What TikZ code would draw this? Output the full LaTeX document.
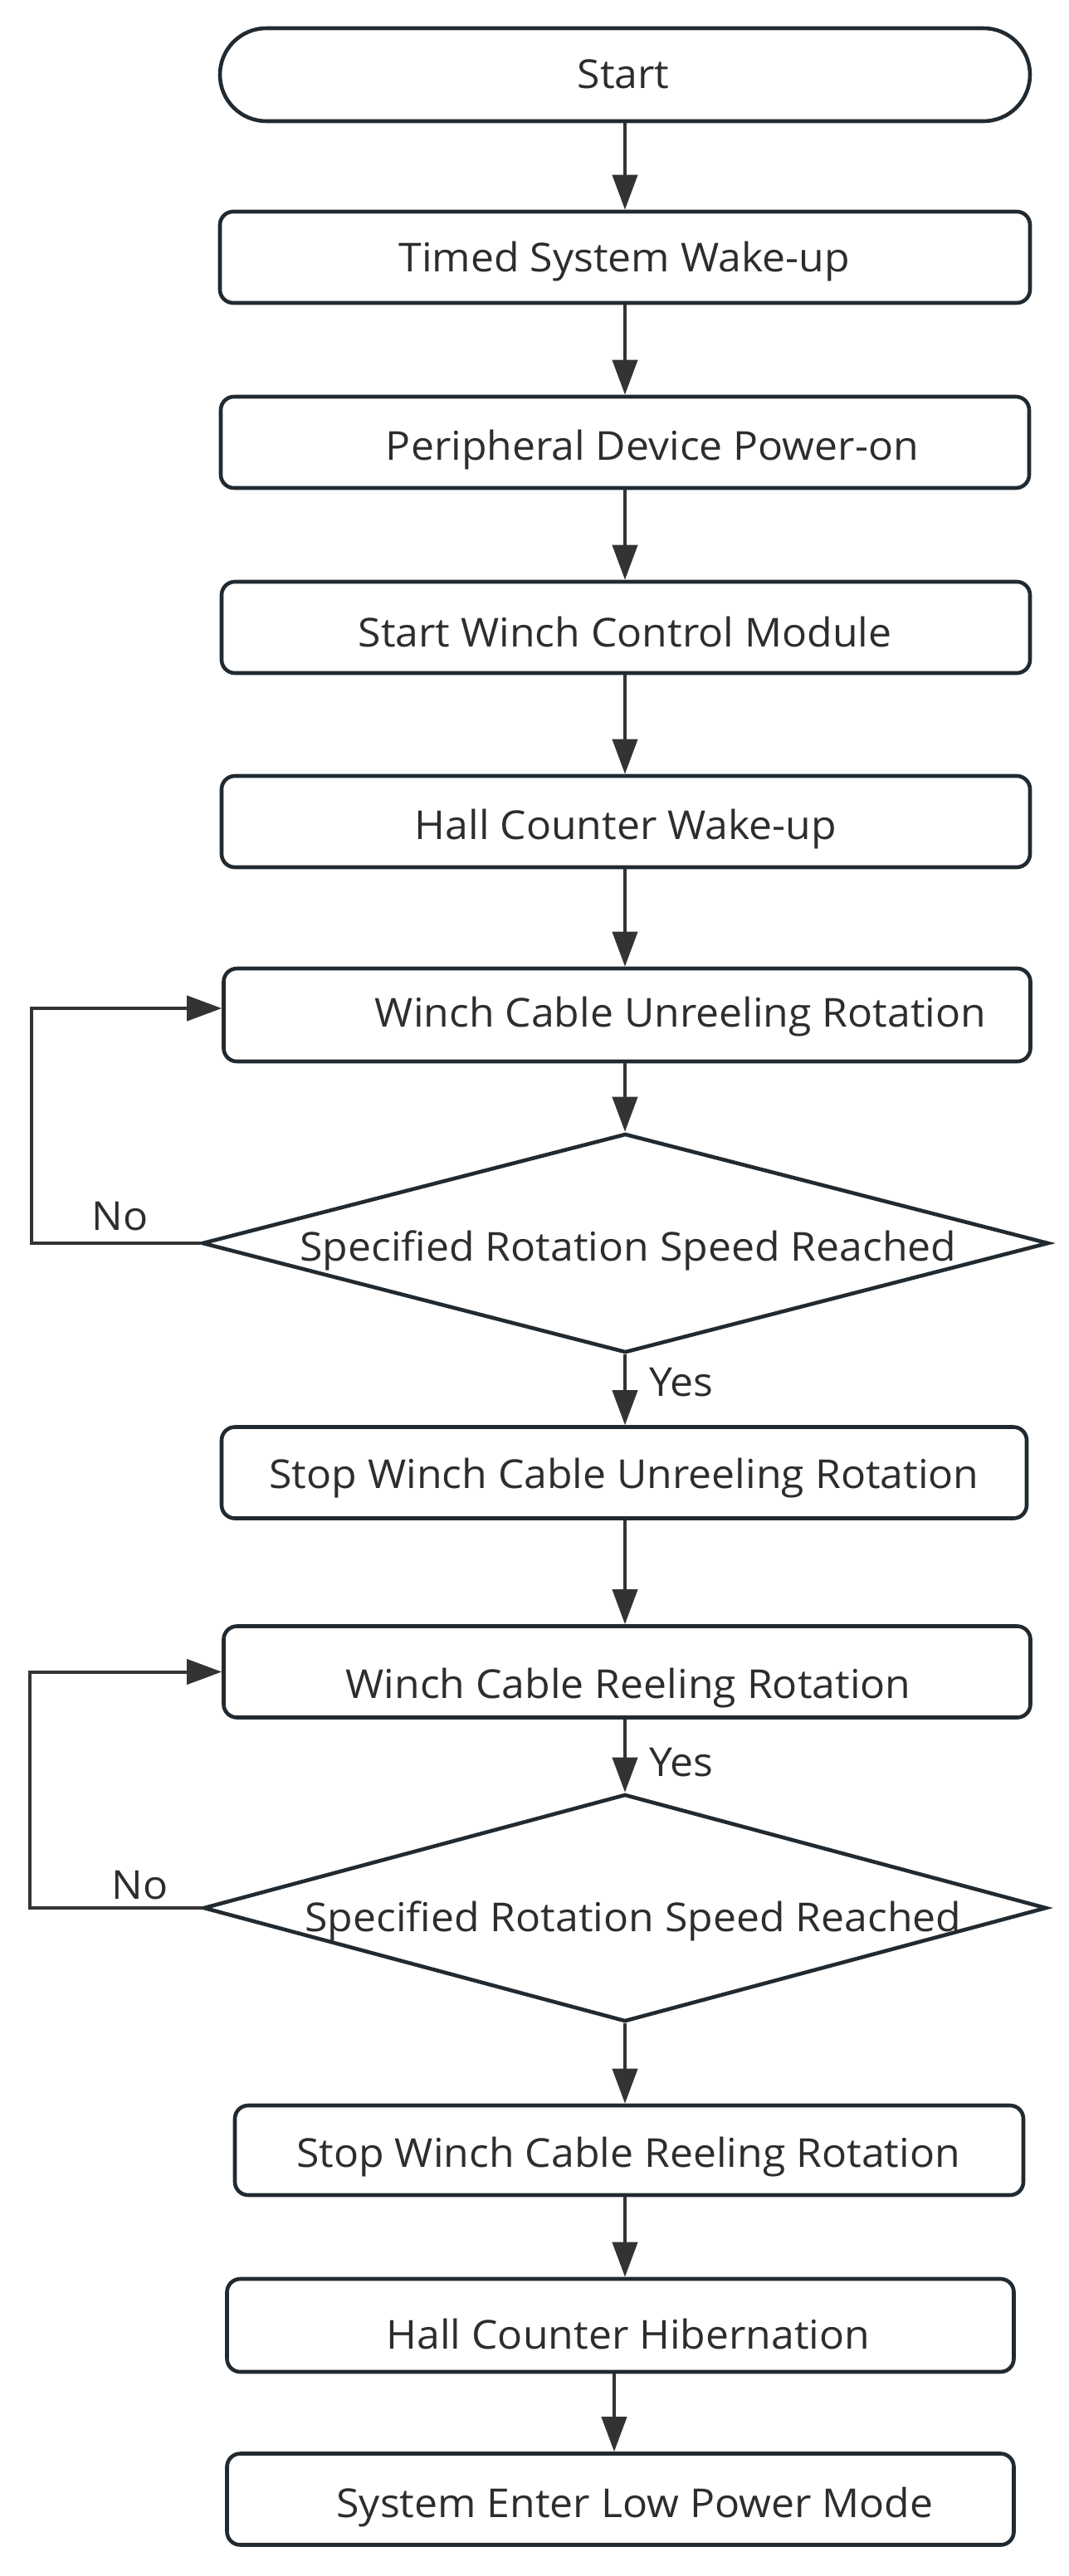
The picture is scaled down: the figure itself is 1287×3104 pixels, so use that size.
\documentclass[tikz,border=0pt]{standalone}
\usepackage{fontspec}
\setmainfont{Open Sans}[FakeStretch=1.04]
\usetikzlibrary{shapes.geometric,arrows.meta}
\definecolor{boxc}{RGB}{33,42,48}
\definecolor{linec}{RGB}{51,51,51}
\definecolor{txtc}{RGB}{45,45,45}
\begin{document}
\begin{tikzpicture}[x=0.5pt,y=-0.5pt,
  box/.style={draw=boxc,line width=2.3pt,rounded corners=8pt,inner sep=0pt,fill=white},
  pill/.style={draw=boxc,line width=2.3pt,rounded corners=28pt,inner sep=0pt,fill=white},
  dec/.style={draw=boxc,line width=2.3pt,shape=diamond,inner sep=0pt,fill=white},
  txt/.style={font=\fontsize{24pt}{28pt}\selectfont,text=txtc,inner sep=0pt,text height=17pt,text depth=0pt,anchor=center},
  lbl/.style={font=\fontsize{24pt}{28pt}\selectfont,text=txtc,inner sep=0pt,anchor=base west},
  arr/.style={draw=linec,line width=2pt,-{Triangle[length=21pt,width=15pt]}},
]
\useasboundingbox[fill=white] (0,0) rectangle (1287,3104);
% boxes
\node[pill,minimum width=488pt,minimum height=56pt] (start) at (753,90) {};
\node[box,minimum width=488pt,minimum height=55pt] (timed) at (753,310) {};
\node[box,minimum width=487pt,minimum height=55pt] (periph) at (753,533) {};
\node[box,minimum width=487pt,minimum height=55pt] (swcm) at (754,756) {};
\node[box,minimum width=487pt,minimum height=55pt] (hallw) at (754,990) {};
\node[box,minimum width=486pt,minimum height=56pt] (unreel) at (755.5,1223) {};
\node[dec,minimum width=510pt,minimum height=132pt] (d1) at (753.5,1498) {};
\node[box,minimum width=485pt,minimum height=55pt] (sunreel) at (752,1774.5) {};
\node[box,minimum width=486pt,minimum height=55pt] (reel) at (755.5,2014.5) {};
\node[dec,minimum width=508pt,minimum height=137pt] (d2) at (753,2299) {};
\node[box,minimum width=475pt,minimum height=54pt] (sreel) at (758,2591) {};
\node[box,minimum width=474pt,minimum height=56pt] (hib) at (747.5,2802) {};
\node[box,minimum width=474pt,minimum height=55pt] (low) at (747.5,3011.5) {};
% texts
\node[txt] (tstart) at (751,90) {Start};
\node[txt] (ttimed) at (752,310) {Timed System Wake-up};
\node[txt] (tperiph) at (786,537) {Peripheral Device Power-on};
\node[txt] (tswcm) at (753,762) {Start Winch Control Module};
\node[txt] (thallw) at (754,994) {Hall Counter Wake-up};
\node[txt] (tunreel) at (820,1220) {Winch Cable Unreeling Rotation};
\node[txt] (td1) at (757,1502) {Specified Rotation Speed Reached};
\node[txt] (tsunreel) at (752,1776) {Stop Winch Cable Unreeling Rotation};
\node[txt] (treel) at (757,2029) {Winch Cable Reeling Rotation};
\node[txt] (td2) at (763,2310) {Specified Rotation Speed Reached};
\node[txt] (tsreel) at (757,2594) {Stop Winch Cable Reeling Rotation};
\node[txt] (thib) at (757,2813) {Hall Counter Hibernation};
\node[txt] (tlow) at (765,3016) {System Enter Low Power Mode};
% labels
\node[lbl] (yes1) at (782,1682) {Yes};
\node[lbl] (yes2) at (782,2140) {Yes};
\node[lbl] (no1) at (110,1482) {No};
\node[lbl] (no2) at (134,2288) {No};
% connectors
\coordinate (ax) at (753,0);
\coordinate (bx) at (740,0);
\coordinate (l1) at (38,1498);
\coordinate (l2) at (36,2299);
\draw[arr] (start.south -| ax) -- (timed.north -| ax);
\draw[arr] (timed.south -| ax) -- (periph.north -| ax);
\draw[arr] (periph.south -| ax) -- (swcm.north -| ax);
\draw[arr] (swcm.south -| ax) -- (hallw.north -| ax);
\draw[arr] (hallw.south -| ax) -- (unreel.north -| ax);
\draw[arr] (unreel.south -| ax) -- (d1.north -| ax);
\draw[arr] (d1.south -| ax) -- (sunreel.north -| ax);
\draw[arr] (sunreel.south -| ax) -- (reel.north -| ax);
\draw[arr] (reel.south -| ax) -- (d2.north -| ax);
\draw[arr] (d2.south -| ax) -- (sreel.north -| ax);
\draw[arr] (sreel.south -| ax) -- (hib.north -| ax);
\draw[arr] (hib.south -| bx) -- (low.north -| bx);
\draw[arr] (d1.west) -- (l1) |- ([yshift=4pt]unreel.west);
\draw[arr] (d2.west) -- (l2) |- (reel.west);
\end{tikzpicture}
\end{document}
